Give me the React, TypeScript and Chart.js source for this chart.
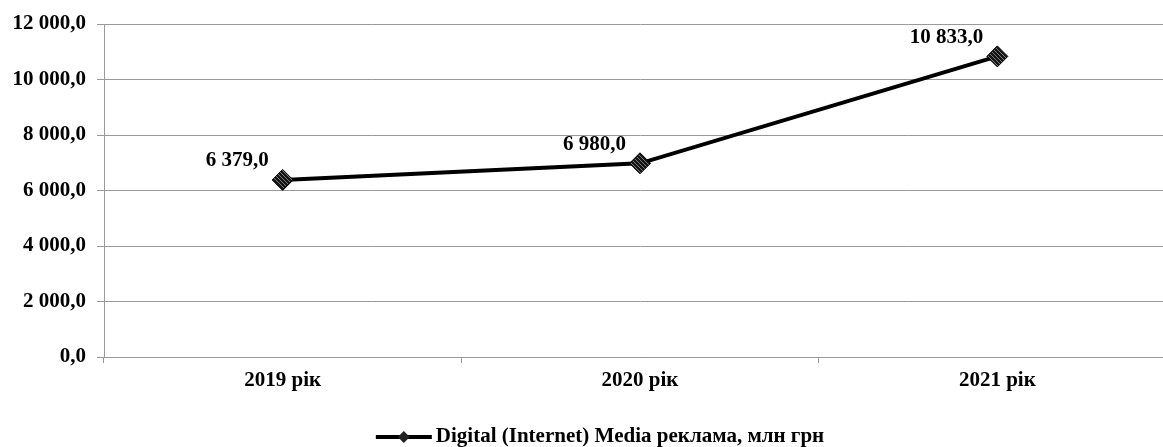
import React, { useEffect, useRef } from "react";
import { Chart, registerables } from "chart.js";

Chart.register(...registerables);

const categories = ["2019 рік", "2020 рік", "2021 рік"];
const values = [6379.0, 6980.0, 10833.0];
const seriesName = "Digital (Internet) Media реклама, млн грн";
const yMin = 0;
const yMax = 12000;
const yStep = 2000;

const FONT_FAMILY = '"Liberation Serif", "Times New Roman", serif';
const FONT_SIZE = 21;

function fmt(v: number): string {
  const s = Math.abs(v).toFixed(1);
  const [intPart, dec] = s.split(".");
  const grouped = intPart.replace(/\B(?=(\d{3})+(?!\d))/g, " ");
  return (v < 0 ? "-" : "") + grouped + "," + dec;
}

function makePattern(): CanvasPattern | string {
  const c = document.createElement("canvas");
  c.width = 4;
  c.height = 4;
  const g = c.getContext("2d");
  if (!g) return "#222";
  g.fillStyle = "#151515";
  g.fillRect(0, 0, 4, 4);
  g.strokeStyle = "#7a7a7a";
  g.lineWidth = 1;
  g.beginPath();
  g.moveTo(0, 0);
  g.lineTo(4, 4);
  g.stroke();
  const p = g.createPattern(c, "repeat");
  return p || "#222";
}

const labelPlugin = {
  id: "valueLabels",
  afterDatasetsDraw(chart: any) {
    const ctx = chart.ctx;
    const meta = chart.getDatasetMeta(0);
    ctx.save();
    ctx.font = `bold ${FONT_SIZE}px ${FONT_FAMILY}`;
    ctx.fillStyle = "#000";
    ctx.textAlign = "right";
    ctx.textBaseline = "middle";
    meta.data.forEach((pt: any, i: number) => {
      const v = chart.data.datasets[0].data[i];
      ctx.fillText(fmt(v), pt.x - 14, pt.y - 19);
    });
    ctx.restore();
  },
};

const legendPlugin = {
  id: "customLegend",
  afterDraw(chart: any) {
    const ctx = chart.ctx;
    ctx.save();
    ctx.font = `bold ${FONT_SIZE}px ${FONT_FAMILY}`;
    const textW = ctx.measureText(seriesName).width;
    const lineW = 56;
    const gap = 4;
    const total = lineW + gap + textW;
    const cx = 600;
    const y = 437;
    const x0 = cx - total / 2;
    ctx.strokeStyle = "#000";
    ctx.lineWidth = 4;
    ctx.beginPath();
    ctx.moveTo(x0, y);
    ctx.lineTo(x0 + lineW, y);
    ctx.stroke();
    const mx = x0 + lineW / 2;
    const r = 6;
    ctx.fillStyle = "#222";
    ctx.beginPath();
    ctx.moveTo(mx, y - r);
    ctx.lineTo(mx + r, y);
    ctx.lineTo(mx, y + r);
    ctx.lineTo(mx - r, y);
    ctx.closePath();
    ctx.fill();
    ctx.fillStyle = "#000";
    ctx.textAlign = "left";
    ctx.textBaseline = "middle";
    ctx.fillText(seriesName, x0 + lineW + gap, y);
    ctx.restore();
  },
};

export default function App() {
  const ref = useRef<HTMLCanvasElement | null>(null);
  useEffect(() => {
    if (!ref.current) return;
    const pattern = makePattern();
    const chart = new Chart(ref.current, {
      type: "line",
      data: {
        labels: categories,
        datasets: [
          {
            label: seriesName,
            data: values,
            borderColor: "#000",
            borderWidth: 4,
            pointStyle: "rectRot",
            pointRadius: 10.5,
            pointHoverRadius: 10.5,
            pointBackgroundColor: pattern as any,
            pointBorderColor: "#000",
            pointBorderWidth: 1,
            tension: 0,
          },
        ],
      },
      options: {
        animation: false,
        responsive: false,
        maintainAspectRatio: false,
        layout: { padding: { top: 24, right: 24, bottom: 0, left: 0 } },
        plugins: {
          legend: { display: false },
          tooltip: { enabled: false },
        },
        scales: {
          x: {
            offset: true,
            afterFit: (s: any) => {
              s.height = 90;
            },
            grid: {
              display: true,
              offset: true,
              drawOnChartArea: false,
              drawTicks: true,
              tickLength: 6,
              color: "#999",
            },
            border: { display: true, color: "#999" },
            ticks: {
              color: "#000",
              padding: 5,
              font: { family: FONT_FAMILY, size: FONT_SIZE, weight: "bold" },
            },
          },
          y: {
            min: yMin,
            max: yMax,
            afterFit: (s: any) => {
              s.width = 104;
            },
            grid: { color: "#999", tickLength: 7, drawTicks: true },
            border: { display: true, color: "#999" },
            ticks: {
              stepSize: yStep,
              color: "#000",
              padding: 11,
              font: { family: FONT_FAMILY, size: FONT_SIZE, weight: "bold" },
              callback: (v: any) => fmt(Number(v)),
            },
          },
        },
      },
      plugins: [labelPlugin, legendPlugin],
    });
    return () => chart.destroy();
  }, []);

  return (
    <div
      style={{
        position: "fixed",
        left: 0,
        top: 0,
        width: 1163,
        height: 447,
        overflow: "hidden",
        background: "#fff",
      }}
    >
      <canvas ref={ref} width={1200} height={447} style={{ width: 1200, height: 447, display: "block" }} />
    </div>
  );
}
